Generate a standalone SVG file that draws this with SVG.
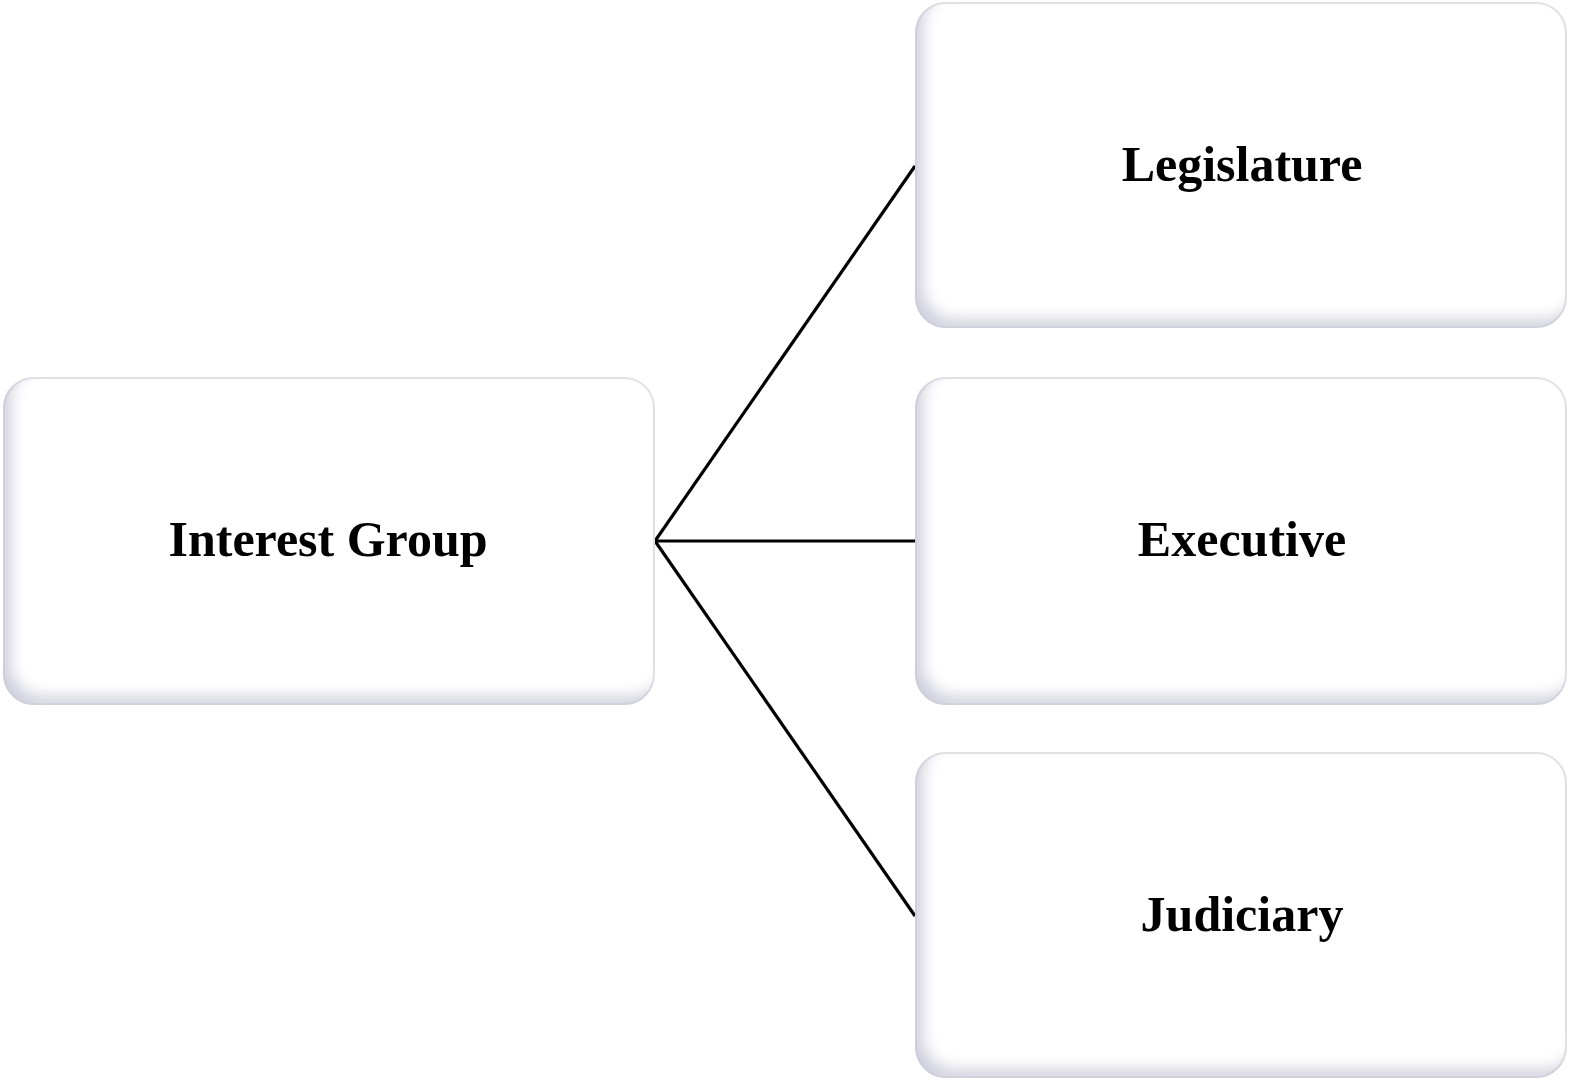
<svg xmlns="http://www.w3.org/2000/svg" width="1582" height="1089" viewBox="0 0 1582 1089">
<style>
.box{fill:#ffffff;stroke:#e2e2e6;stroke-width:2;filter:url(#inner)}
.lbl{font-family:"Liberation Serif","DejaVu Serif",serif;font-weight:bold;font-size:50px;fill:#000;text-anchor:middle}
.conn{stroke:#000;stroke-width:3.2;fill:none}
</style>
<defs>
<filter id="inner" x="-5%" y="-5%" width="110%" height="110%">
<feComponentTransfer in="SourceAlpha" result="inv"><feFuncA type="table" tableValues="1 0"/></feComponentTransfer>
<feOffset in="inv" dx="9" dy="-10" result="off"/>
<feGaussianBlur in="off" stdDeviation="7" result="blur"/>
<feComposite in="blur" in2="SourceAlpha" operator="in" result="sh"/>
<feFlood flood-color="#c8c8d8" flood-opacity="0.85"/>
<feComposite in2="sh" operator="in" result="shc"/>
<feMerge><feMergeNode in="SourceGraphic"/><feMergeNode in="shc"/></feMerge>
</filter>
</defs>
<g id="connectors">
<line class="conn" x1="655" y1="541" x2="915" y2="166"/>
<line class="conn" x1="655" y1="541" x2="916" y2="541"/>
<line class="conn" x1="655" y1="541" x2="915" y2="916"/>
</g>
<g id="interest-group">
<rect class="box" x="4" y="378" width="650" height="326" rx="30"/>
<text class="lbl" x="328" y="556">Interest Group</text>
</g>
<g id="legislature">
<rect class="box" x="916" y="3" width="650" height="324" rx="30"/>
<text class="lbl" x="1242" y="181">Legislature</text>
</g>
<g id="executive">
<rect class="box" x="916" y="378" width="650" height="326" rx="30"/>
<text class="lbl" x="1242" y="556">Executive</text>
</g>
<g id="judiciary">
<rect class="box" x="916" y="753" width="650" height="324" rx="30"/>
<text class="lbl" x="1242" y="931">Judiciary</text>
</g>
</svg>
